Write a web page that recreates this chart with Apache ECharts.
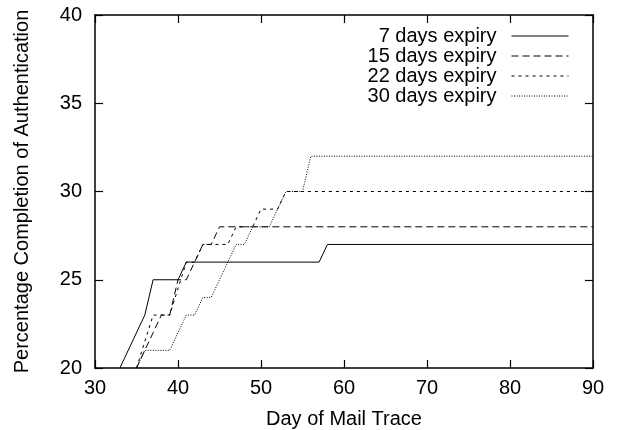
<!DOCTYPE html>
<html>
<head>
<meta charset="utf-8">
<script src="https://cdn.jsdelivr.net/npm/echarts@6/dist/echarts.min.js"></script>
<style>
  html, body { margin: 0; padding: 0; background: #fff; }
  #chart { width: 618px; height: 430px; }
</style>
</head>
<body>
<div id="chart"></div>
<script>
// values
const seriesNames = ['7 days expiry', '15 days expiry', '22 days expiry', '30 days expiry'];

const days7 = [33, 36, 37, 40, 41, 57, 58, 90];
const pct7  = [20, 23, 25, 25, 26, 26, 27, 27];

const days15 = [35, 37, 38, 39, 40, 41, 43, 44, 45, 90];
const pct15  = [20, 22, 23, 23, 25, 25, 27, 27, 28, 28];

const days22 = [35, 37, 39, 41, 42, 43, 46, 47, 49, 50, 52, 53, 90];
const pct22  = [20, 23, 23, 26, 26, 27, 27, 28, 28, 29, 29, 30, 30];

const days30 = [35, 36, 39, 41, 42, 43, 44, 47, 48, 49, 51, 53, 55, 56, 90];
const pct30  = [20, 21, 21, 23, 23, 24, 24, 27, 27, 28, 28, 30, 30, 32, 32];

const xTicks = [30, 40, 50, 60, 70, 80, 90];
const yTicks = [20, 25, 30, 35, 40];

const font = 'Liberation Sans, Arial, Helvetica, sans-serif';

function pairs(xs, ys) {
    let out = [];
    for (let i = 0; i < xs.length; i++) {
        out.push([xs[i], ys[i]]);
    }
    return out;
}

const lineData = [pairs(days7, pct7), pairs(days15, pct15), pairs(days22, pct22), pairs(days30, pct30)];
const dashTypes = ['solid', [7, 4], [3, 4], [1, 1.5]];

let chart = echarts.init(document.getElementById('chart'));

const axisCommon = {
    type: 'value',
    axisLine: { show: true, onZero: false, lineStyle: { color: '#000', width: 1.5 } },
    axisTick: { show: true, inside: true, length: 8, lineStyle: { color: '#000', width: 1.2 } },
    splitLine: { show: false }
};

let option = {
    animation: false,
    backgroundColor: '#fff',
    grid: { left: 95, right: 25, top: 15, bottom: 62, containLabel: false, outerBoundsMode: 'none' },
    legend: {
        orient: 'vertical',
        right: 44,
        top: 21,
        align: 'right',
        itemWidth: 57,
        itemHeight: 15,
        itemGap: 0,
        data: seriesNames,
        itemStyle: { opacity: 0 },
        lineStyle: { width: 1 },
        textStyle: {
            color: '#000', fontSize: 20, fontFamily: font,
            width: 140, align: 'right', lineHeight: 20, padding: [0, 10, 0, 0]
        }
    },
    xAxis: [
        Object.assign({}, axisCommon, {
            position: 'bottom',
            min: xTicks[0], max: xTicks[xTicks.length - 1], interval: 10,
            name: 'Day of Mail Trace',
            nameLocation: 'middle',
            nameGap: 41,
            nameTextStyle: { color: '#000', fontSize: 20, fontFamily: font },
            axisLabel: { color: '#000', fontSize: 20, fontFamily: font, margin: 10 }
        }),
        Object.assign({}, axisCommon, {
            position: 'top',
            min: xTicks[0], max: xTicks[xTicks.length - 1], interval: 10,
            axisLabel: { show: false }
        })
    ],
    yAxis: [
        Object.assign({}, axisCommon, {
            position: 'left',
            min: yTicks[0], max: yTicks[yTicks.length - 1], interval: 5,
            name: 'Percentage Completion of Authentication',
            nameLocation: 'middle',
            nameGap: 63,
            nameTextStyle: { color: '#000', fontSize: 20, fontFamily: font },
            axisLabel: { color: '#000', fontSize: 20, fontFamily: font, margin: 13 }
        }),
        Object.assign({}, axisCommon, {
            position: 'right',
            min: yTicks[0], max: yTicks[yTicks.length - 1], interval: 5,
            axisLabel: { show: false }
        })
    ],
    series: seriesNames.map(function (name, i) {
        return {
            name: name,
            type: 'line',
            xAxisIndex: 0,
            yAxisIndex: 0,
            data: lineData[i],
            symbol: 'none',
            lineStyle: { color: '#000', width: 1, type: dashTypes[i] },
            itemStyle: { color: '#000' }
        };
    })
};

chart.setOption(option);
</script>
</body>
</html>
